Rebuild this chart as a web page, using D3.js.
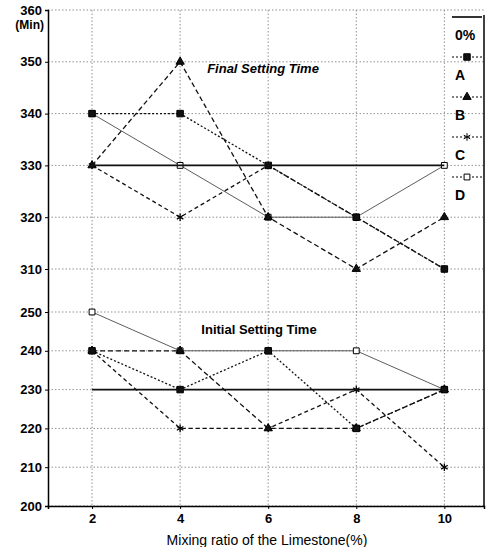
<!DOCTYPE html>
<html>
<head>
<meta charset="utf-8">
<script src="https://cdn.jsdelivr.net/npm/d3@7"></script>
<style>
  body { margin: 0; background: #fff; }
  svg { font-family: "Liberation Sans", Arial, sans-serif; }
</style>
</head>
<body>
<div id="chart"></div>
<script>
// mixing ratio of limestone (%)
var ratios = [2, 4, 6, 8, 10];
var yTicks = [200, 210, 220, 230, 240, 250, 310, 320, 330, 340, 350, 360];

// final setting time (min)
var final0 = [330, 330, 330, 330, 330];
var finalA = [340, 340, 330, 320, 310];
var finalB = [330, 350, 320, 310, 320];
var finalC = [330, 320, 330, 320, 310];
var finalD = [340, 330, 320, 320, 330];

// initial setting time (min)
var init0 = [230, 230, 230, 230, 230];
var initA = [240, 230, 240, 220, 230];
var initB = [240, 240, 220, 220, 230];
var initC = [240, 220, 220, 230, 210];
var initD = [250, 240, 240, 240, 230];

var seriesNames = ["0%", "A", "B", "C", "D"];

var W = 491, H = 547;
// plot box (window.top is read only, so no "top" here)
var pLeft = 48, pRight = 484, pTop = 10, pBottom = 506;

var svg = d3.select("#chart").append("svg")
    .attr("width", W)
    .attr("height", H);

var x = d3.scaleLinear().domain([1, 10.9]).range([pLeft, pRight]);
// broken axis : 260-300 is skipped
var y = d3.scaleLinear().domain([200, 250, 310, 360]).range([pBottom, 312, 269, pTop]);

// style of each series
var styles = {
    "0%": { dash: null, width: 1.6, color: "#111", sym: null },
    "A": { dash: "2,2", width: 1.3, color: "#111", sym: d3.symbolSquare, fill: "#111", size: 42 },
    "B": { dash: "5,3", width: 1.3, color: "#111", sym: d3.symbolTriangle, fill: "#111", size: 30 },
    "C": { dash: "4,3", width: 1.3, color: "#111", sym: d3.symbolAsterisk, fill: "none", size: 40 },
    "D": { dash: null, width: 0.8, color: "#333", sym: d3.symbolSquare, fill: "#fff", size: 34 }
};

// grid
svg.append("g")
    .selectAll("line")
    .data(yTicks)
    .enter()
    .append("line")
    .attr("x1", pLeft).attr("x2", pRight)
    .attr("y1", function(d) { return y(d); })
    .attr("y2", function(d) { return y(d); })
    .attr("stroke", "#777")
    .attr("stroke-width", 0.8)
    .attr("stroke-dasharray", "1.5,2");

svg.append("g")
    .selectAll("line")
    .data(ratios)
    .enter()
    .append("line")
    .attr("x1", function(d) { return x(d); })
    .attr("x2", function(d) { return x(d); })
    .attr("y1", pTop).attr("y2", pBottom)
    .attr("stroke", "#777")
    .attr("stroke-width", 0.8)
    .attr("stroke-dasharray", "1.5,2");

// axes
var yAxis = svg.append("g")
    .attr("transform", "translate(" + pLeft + ",0)")
    .call(d3.axisLeft(y).tickValues(yTicks).tickSize(3).tickPadding(3));
yAxis.select(".domain").attr("stroke", "#000").attr("stroke-width", 1.5);
yAxis.selectAll("text")
    .attr("font-size", 13)
    .attr("font-weight", "bold")
    .attr("fill", "#000");

var xAxis = svg.append("g")
    .attr("transform", "translate(0," + pBottom + ")")
    .call(d3.axisBottom(x).tickValues(ratios).tickSize(3).tickPadding(5));
xAxis.select(".domain").attr("stroke", "#000").attr("stroke-width", 1.5);
xAxis.selectAll("text")
    .attr("font-size", 13)
    .attr("font-weight", "bold")
    .attr("fill", "#000");

// right frame
svg.append("line")
    .attr("x1", pRight).attr("x2", pRight)
    .attr("y1", 15).attr("y2", pBottom)
    .attr("stroke", "#000")
    .attr("stroke-width", 1.5);

svg.append("text")
    .attr("x", 44).attr("y", 29)
    .attr("text-anchor", "end")
    .attr("font-size", 12)
    .attr("font-weight", "bold")
    .text("(Min)");

svg.append("text")
    .attr("x", 267).attr("y", 545)
    .attr("text-anchor", "middle")
    .attr("font-size", 14)
    .text("Mixing ratio of the Limestone(%)");

svg.append("text")
    .attr("x", 263).attr("y", 73)
    .attr("text-anchor", "middle")
    .attr("font-size", 13)
    .attr("font-weight", "bold")
    .attr("font-style", "italic")
    .text("Final Setting Time");

svg.append("text")
    .attr("x", 259).attr("y", 334)
    .attr("text-anchor", "middle")
    .attr("font-size", 13)
    .attr("font-weight", "bold")
    .text("Initial Setting Time");

var groups = [
    { name: "0%", values: [final0, init0] },
    { name: "A", values: [finalA, initA] },
    { name: "B", values: [finalB, initB] },
    { name: "C", values: [finalC, initC] },
    { name: "D", values: [finalD, initD] }
];

var line = d3.line()
    .x(function(d, i) { return x(ratios[i]); })
    .y(function(d) { return y(d); });

// draw D first so the heavier marks sit on top
var order = ["D", "C", "B", "A", "0%"];
order.forEach(function(name) {
    var g = groups.filter(function(s) { return s.name == name; })[0];
    var st = styles[name];
    g.values.forEach(function(vals) {
        svg.append("path")
            .datum(vals)
            .attr("d", line)
            .attr("fill", "none")
            .attr("stroke", st.color)
            .attr("stroke-width", st.width)
            .attr("stroke-dasharray", st.dash);
        if (st.sym) {
            svg.append("g")
                .selectAll("path")
                .data(vals)
                .enter()
                .append("path")
                .attr("transform", function(d, i) {
                    return "translate(" + x(ratios[i]) + "," + y(d) + ")";
                })
                .attr("d", d3.symbol().type(st.sym).size(st.size))
                .attr("fill", st.fill)
                .attr("stroke", "#000")
                .attr("stroke-width", name == "C" ? 1.3 : 1);
        }
    });
});

// legend
var legY = [17, 57, 97, 137, 177];
var leg = svg.append("g");
seriesNames.forEach(function(name, i) {
    var st = styles[name];
    leg.append("line")
        .attr("x1", 452).attr("x2", 482)
        .attr("y1", legY[i]).attr("y2", legY[i])
        .attr("stroke", "#000")
        .attr("stroke-width", name == "0%" ? 1.6 : 1)
        .attr("stroke-dasharray", name == "0%" ? null : "2,2");
    if (st.sym) {
        leg.append("path")
            .attr("transform", "translate(467," + legY[i] + ")")
            .attr("d", d3.symbol().type(st.sym).size(st.size))
            .attr("fill", st.fill)
            .attr("stroke", "#000")
            .attr("stroke-width", 1);
    }
    leg.append("text")
        .attr("x", 455)
        .attr("y", legY[i] + 23)
        .attr("font-size", 14)
        .attr("font-weight", "bold")
        .text(name);
});
</script>
</body>
</html>
